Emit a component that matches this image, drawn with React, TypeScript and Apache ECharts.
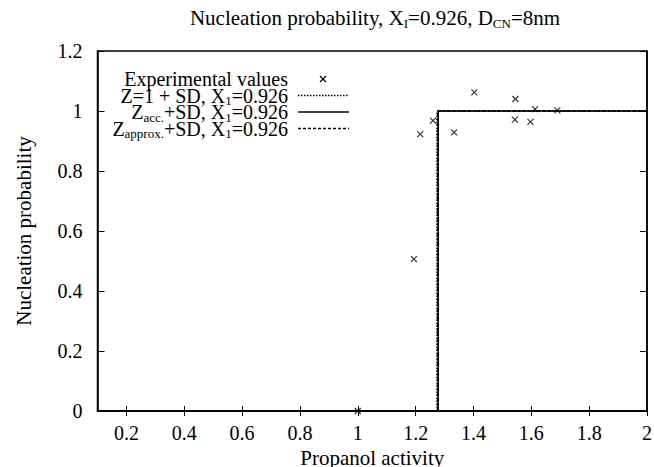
import React, { useEffect, useRef } from "react";
import * as echarts from "echarts";

const titleText = "Nucleation probability, X{sub|I}=0.926, D{sub|CN}=8nm";
const xName = "Propanol activity";
const yName = "Nucleation probability";
const xTicks = [0.2, 0.4, 0.6, 0.8, 1.0, 1.2, 1.4, 1.6, 1.8, 2.0];

const experimental: [number, number][] = [
  [1.0, 0.0],
  [1.194, 0.506],
  [1.216, 0.923],
  [1.26, 0.968],
  [1.333, 0.929],
  [1.403, 1.062],
  [1.543, 0.971],
  [1.545, 1.04],
  [1.597, 0.964],
  [1.613, 1.006],
  [1.69, 1.002],
];
const zOneSD: [number, number][] = [
  [1.274, 0],
  [1.274, 1],
  [2.0, 1],
];
const zAccSD: [number, number][] = [
  [1.278, 0],
  [1.278, 1],
  [2.0, 1],
];
const zApproxSD: [number, number][] = [
  [1.276, 0],
  [1.276, 1],
  [2.0, 1],
];

const legendLabels = [
  "Experimental values",
  "Z=1 + SD, X{sub|1}=0.926",
  "Z{sub|acc.}+SD, X{sub|1}=0.926",
  "Z{sub|approx.}+SD, X{sub|1}=0.926",
];

const FONT = "'Liberation Serif', 'Times New Roman', serif";
const FS = 21;
const FS_TICK = 20;
const FS_LEG = 20;

export default function App() {
  const ref = useRef<HTMLDivElement>(null);
  useEffect(() => {
    if (!ref.current) return;
    const chart = echarts.init(ref.current, null, { renderer: "svg" });
    const rich = {
      sub: {
        fontSize: 13,
        fontFamily: FONT,
        color: "#000",
        lineHeight: 8,
        padding: [10, 0, 0, 0],
      },
    };
    const axisCommon = {
      axisLine: { show: true, lineStyle: { color: "#000", width: 1.5 } },
      splitLine: { show: false },
    };
    const legendX = 288;
    const legendY0 = 79;
    const legendDy = 16.5;
    const graphics: any[] = [
      {
        type: "text",
        x: 375,
        y: 18,
        style: {
          text: titleText,
          rich,
          fontFamily: FONT,
          fontSize: FS,
          lineHeight: 20,
          fill: "#000",
          textAlign: "center",
          textVerticalAlign: "middle",
        },
      },
    ];
    legendLabels.forEach((t, i) => {
      graphics.push({
        type: "text",
        x: legendX,
        y: legendY0 + i * legendDy,
        style: {
          text: t,
          rich,
          fontFamily: FONT,
          fontSize: FS_LEG,
          lineHeight: 16,
          fill: "#000",
          textAlign: "right",
          textVerticalAlign: "middle",
        },
      });
    });
    graphics.push({
      type: "group",
      children: [
        {
          type: "line",
          shape: { x1: 320, y1: legendY0 - 3, x2: 326, y2: legendY0 + 3 },
          style: { stroke: "#000", lineWidth: 1.2 },
        },
        {
          type: "line",
          shape: { x1: 326, y1: legendY0 - 3, x2: 320, y2: legendY0 + 3 },
          style: { stroke: "#000", lineWidth: 1.2 },
        },
        {
          type: "line",
          shape: { x1: 298, y1: legendY0 + legendDy, x2: 349, y2: legendY0 + legendDy },
          style: { stroke: "#000", lineWidth: 1.5, lineDash: [1.5, 1.5] },
        },
        {
          type: "line",
          shape: { x1: 298, y1: legendY0 + 2 * legendDy, x2: 349, y2: legendY0 + 2 * legendDy },
          style: { stroke: "#000", lineWidth: 1.5 },
        },
        {
          type: "line",
          shape: { x1: 298, y1: legendY0 + 3 * legendDy, x2: 349, y2: legendY0 + 3 * legendDy },
          style: { stroke: "#000", lineWidth: 1.5, lineDash: [3, 2] },
        },
      ],
    });

    chart.setOption({
      animation: false,
      backgroundColor: "#fff",
      grid: {
        left: 97.5,
        right: 7,
        top: 51,
        bottom: 56,
        show: true,
        borderColor: "#000",
        borderWidth: 1.5,
        containLabel: false,
        outerBoundsMode: "none",
      },
      xAxis: [
        {
          type: "value",
          min: 0.1,
          max: 2,
          position: "bottom",
          ...axisCommon,
          axisTick: {
            show: true,
            inside: true,
            length: 5,
            customValues: xTicks,
            lineStyle: { color: "#000", width: 1 },
          },
          axisLabel: {
            show: true,
            customValues: xTicks,
            formatter: (v: number) => String(parseFloat(v.toFixed(1))),
            color: "#000",
            fontFamily: FONT,
            fontSize: FS_TICK,
            margin: 12,
          },
          name: xName,
          nameLocation: "middle",
          nameGap: 35,
          nameTextStyle: { color: "#000", fontFamily: FONT, fontSize: FS },
        },
        {
          type: "value",
          min: 0.1,
          max: 2,
          position: "top",
          ...axisCommon,
          axisTick: {
            show: true,
            inside: true,
            length: 5,
            customValues: xTicks,
            lineStyle: { color: "#000", width: 1 },
          },
          axisLabel: { show: false },
        },
      ],
      yAxis: [
        {
          type: "value",
          min: 0,
          max: 1.2,
          interval: 0.2,
          position: "left",
          ...axisCommon,
          axisTick: { show: true, inside: true, length: 7, lineStyle: { color: "#000", width: 1 } },
          axisLabel: {
            color: "#000",
            fontFamily: FONT,
            fontSize: FS_TICK,
            margin: 15,
          },
          name: yName,
          nameLocation: "middle",
          nameGap: 63,
          nameRotate: 90,
          nameTextStyle: { color: "#000", fontFamily: FONT, fontSize: FS },
        },
        {
          type: "value",
          min: 0,
          max: 1.2,
          interval: 0.2,
          position: "right",
          ...axisCommon,
          axisTick: { show: true, inside: true, length: 7, lineStyle: { color: "#000", width: 1 } },
          axisLabel: { show: false },
        },
      ],
      series: [
        {
          name: "Z=1 + SD",
          type: "line",
          data: zOneSD,
          showSymbol: false,
          symbol: "none",
          lineStyle: { color: "#000", width: 1.5, type: [1.5, 1.5] },
          z: 3,
        },
        {
          name: "Zacc.+SD",
          type: "line",
          data: zAccSD,
          showSymbol: false,
          symbol: "none",
          lineStyle: { color: "#000", width: 1.5, type: "solid" },
          z: 3,
        },
        {
          name: "Zapprox.+SD",
          type: "line",
          data: zApproxSD,
          showSymbol: false,
          symbol: "none",
          lineStyle: { color: "#000", width: 1.5, type: [3, 2] },
          z: 3,
        },
        {
          name: "Experimental values",
          type: "scatter",
          data: experimental,
          symbol: "path://M0,0L10,10M10,0L0,10",
          symbolSize: 6,
          itemStyle: { color: "transparent", borderColor: "#000", borderWidth: 1.2 },
          z: 4,
        },
      ],
      graphic: graphics,
    });
    return () => chart.dispose();
  }, []);
  return (
    <div
      ref={ref}
      style={{ position: "absolute", left: 0, top: 0, width: 654, height: 467 }}
    />
  );
}
